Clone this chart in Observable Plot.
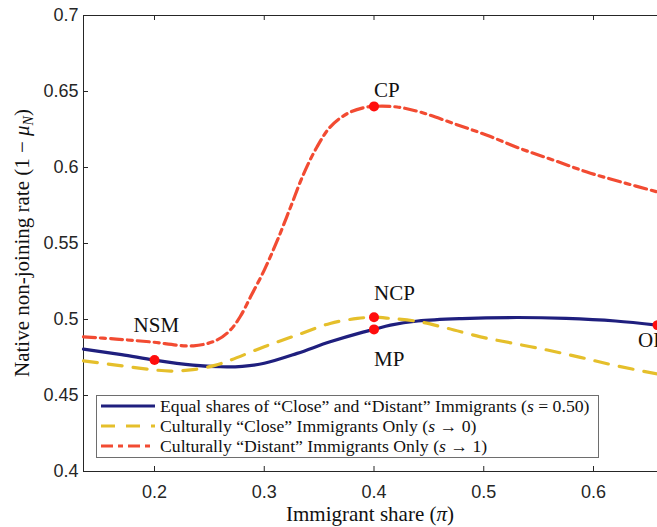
<!DOCTYPE html>
<html>
<head>
<meta charset="utf-8">
<script src="https://cdn.jsdelivr.net/npm/d3@7"></script>
<script src="https://cdn.jsdelivr.net/npm/@observablehq/plot@0.6"></script>
<style>
  html, body { margin: 0; padding: 0; background: #fff; overflow: hidden; }
  #chart svg { display: block; }
</style>
</head>
<body>
<div id="chart"></div>
<script>
// Immigrant share (pi) and native non-joining rate (1 - mu_N) for three scenarios
const equalShare = [0.1353, 0.17, 0.2, 0.235, 0.26, 0.28, 0.30, 0.33, 0.36, 0.39, 0.40, 0.415, 0.44, 0.48, 0.53, 0.575, 0.62, 0.6583];
const equalRate  = [0.4805, 0.4769, 0.4733, 0.4700, 0.4689, 0.4692, 0.4712, 0.4777, 0.4853, 0.4917, 0.4935, 0.4963, 0.4990, 0.5006, 0.5013, 0.5007, 0.4990, 0.4963];

const closeShare = [0.1353, 0.165, 0.195, 0.215, 0.235, 0.255, 0.27, 0.30, 0.33, 0.36, 0.385, 0.40, 0.415, 0.44, 0.467, 0.497, 0.527, 0.558, 0.588, 0.618, 0.6583];
const closeRate  = [0.4728, 0.4700, 0.4672, 0.4661, 0.4670, 0.4698, 0.4735, 0.4821, 0.4898, 0.4974, 0.5007, 0.5015, 0.5007, 0.4987, 0.4942, 0.4886, 0.4843, 0.4799, 0.4751, 0.4700, 0.4641];

const distantShare = [0.1353, 0.165, 0.196, 0.2355, 0.257, 0.269, 0.278, 0.2875, 0.30, 0.312, 0.324, 0.336, 0.348, 0.36, 0.3755, 0.391, 0.40, 0.421, 0.442, 0.473, 0.503, 0.5335, 0.564, 0.594, 0.625, 0.6583];
const distantRate  = [0.4886, 0.4871, 0.4853, 0.4827, 0.4865, 0.4930, 0.5018, 0.5149, 0.5325, 0.5522, 0.5740, 0.5960, 0.6135, 0.6266, 0.6354, 0.6394, 0.6402, 0.6398, 0.6365, 0.6288, 0.6212, 0.6124, 0.6047, 0.5970, 0.5905, 0.5839];

// Marked equilibria
const pointNames = ["NSM", "CP", "NCP", "MP", "OP"];
const pointShare = [0.2, 0.4, 0.4, 0.4, 0.6583];
const pointRate  = [0.4733, 0.6402, 0.5015, 0.4935, 0.4963];
// Where each point's name sits (left edge, baseline)
const labelShare = [0.1809, 0.4, 0.4, 0.4, 0.6405];
const labelRate  = [0.4920, 0.6461, 0.5127, 0.4694, 0.4819];

// Axis ticks
const xTicks = [0.2, 0.3, 0.4, 0.5, 0.6];
const xTickLabels = ["0.2", "0.3", "0.4", "0.5", "0.6"];
const yTicks = [0.4, 0.45, 0.5, 0.55, 0.6, 0.65, 0.7];
const yTickLabels = ["0.4", "0.45", "0.5", "0.55", "0.6", "0.65", "0.7"];

const seriesNames = [
  "Equal shares of “Close” and “Distant” Immigrants",
  "Culturally “Close” Immigrants Only",
  "Culturally “Distant” Immigrants Only"
];
const seriesMath = ["= 0.50", "→ 0", "→ 1"];

const colors = { equal: "#1f1f7e", close: "#e5bf2b", distant: "#f24b32", point: "#ff0d0d", axis: "#262626" };
const dashes = { equal: null, close: "14,11", distant: "12,5,5,5" };

const toRows = (xs, ys) => xs.map((x, i) => ({ x, y: ys[i] }));
const equalData = toRows(equalShare, equalRate);
const closeData = toRows(closeShare, closeRate);
const distantData = toRows(distantShare, distantRate);
const points = pointNames.map((name, i) => ({ name, x: pointShare[i], y: pointRate[i] }));
const labels = pointNames.map((name, i) => ({ name, x: labelShare[i], y: labelRate[i] }));

const W = 657, H = 527;
const mT = 15, mR = 0, mB = 56, mL = 83;
const plotW = W - mL - mR, plotH = H - mT - mB;
const tickLen = 5;
const serif = "'Liberation Serif', 'Times New Roman', serif";
const sans = "'Liberation Sans', Arial, Helvetica, sans-serif";

const svg = Plot.plot({
  width: W,
  height: H,
  marginTop: mT, marginRight: mR, marginBottom: mB, marginLeft: mL,
  style: { background: "white", fontFamily: sans, overflow: "visible" },
  x: { domain: [0.1353, 0.6583] },
  y: { domain: [0.4, 0.7] },
  marks: [
    // box spines (right side falls on the page edge)
    Plot.ruleX([0.1353], { stroke: colors.axis, strokeWidth: 1 }),
    Plot.ruleY([0.4], { stroke: colors.axis, strokeWidth: 1 }),
    Plot.ruleY([0.7], { stroke: colors.axis, strokeWidth: 1 }),
    // inward tick marks
    Plot.tickX(xTicks, { x: d => d, insetTop: plotH - tickLen, stroke: colors.axis }),
    Plot.tickX(xTicks, { x: d => d, insetBottom: plotH - tickLen, stroke: colors.axis }),
    Plot.tickY(yTicks, { y: d => d, insetRight: plotW - tickLen, stroke: colors.axis }),
    // tick labels
    Plot.axisX(xTicks, { tickSize: 0, tickPadding: 14, fontSize: 18, fill: colors.axis, label: null,
      tickFormat: (d, i) => xTickLabels[i] }),
    Plot.axisY(yTicks, { tickSize: 0, tickPadding: 5, fontSize: 18, fill: colors.axis, label: null,
      tickFormat: (d, i) => yTickLabels[i] }),
    // scenario curves
    Plot.line(equalData, { x: "x", y: "y", stroke: colors.equal, strokeWidth: 3.2, curve: "catmull-rom" }),
    Plot.line(closeData, { x: "x", y: "y", stroke: colors.close, strokeWidth: 3.2, strokeDasharray: dashes.close, curve: "catmull-rom" }),
    Plot.line(distantData, { x: "x", y: "y", stroke: colors.distant, strokeWidth: 3.2, strokeDasharray: dashes.distant, curve: "catmull-rom" }),
    // equilibria
    Plot.dot(points, { x: "x", y: "y", r: 5, fill: colors.point, stroke: "none" }),
    Plot.text(labels, { x: "x", y: "y", text: "name", textAnchor: "start", lineAnchor: "bottom",
      fontFamily: serif, fontSize: 21, fill: "#111" })
  ]
});

document.getElementById("chart").appendChild(svg);
const root = d3.select(svg);

// y axis title
const yTitle = root.append("text")
  .attr("transform", `translate(29, ${mT + plotH / 2}) rotate(-90)`)
  .attr("text-anchor", "middle")
  .style("font-family", serif).style("font-size", "21px").attr("fill", "#111");
yTitle.append("tspan").text("Native non-joining rate (1 − ");
yTitle.append("tspan").style("font-style", "italic").text("μ");
yTitle.append("tspan").style("font-style", "italic").style("font-size", "14px").attr("dy", 4).text("N");
yTitle.append("tspan").attr("dy", -4).text(")");

// x axis title
const xTitle = root.append("text")
  .attr("x", mL + plotW / 2).attr("y", 521)
  .attr("text-anchor", "middle")
  .style("font-family", serif).style("font-size", "21px").attr("fill", "#111");
xTitle.append("tspan").text("Immigrant share (");
xTitle.append("tspan").style("font-style", "italic").text("π");
xTitle.append("tspan").text(")");

// legend
const lg = root.append("g").attr("text-anchor", "start");
lg.append("rect")
  .attr("x", 96.5).attr("y", 395.5).attr("width", 502).attr("height", 62)
  .attr("fill", "white").attr("stroke", "#6e6e6e").attr("stroke-width", 1);
const keys = [
  { color: colors.equal, dash: dashes.equal },
  { color: colors.close, dash: dashes.close },
  { color: colors.distant, dash: dashes.distant }
];
keys.forEach((k, i) => {
  const cy = 406 + i * 20;
  const ln = lg.append("line")
    .attr("x1", 101).attr("x2", 155).attr("y1", cy).attr("y2", cy)
    .attr("stroke", k.color).attr("stroke-width", 3.2);
  if (k.dash) ln.attr("stroke-dasharray", k.dash);
  const t = lg.append("text")
    .attr("x", 160).attr("y", cy + 5.5)
    .attr("text-anchor", "start")
    .style("font-family", serif).style("font-size", "17.7px").attr("fill", "#111");
  t.append("tspan").text(seriesNames[i] + " (");
  t.append("tspan").style("font-style", "italic").text("s");
  t.append("tspan").text(" " + seriesMath[i] + ")");
});
</script>
</body>
</html>
